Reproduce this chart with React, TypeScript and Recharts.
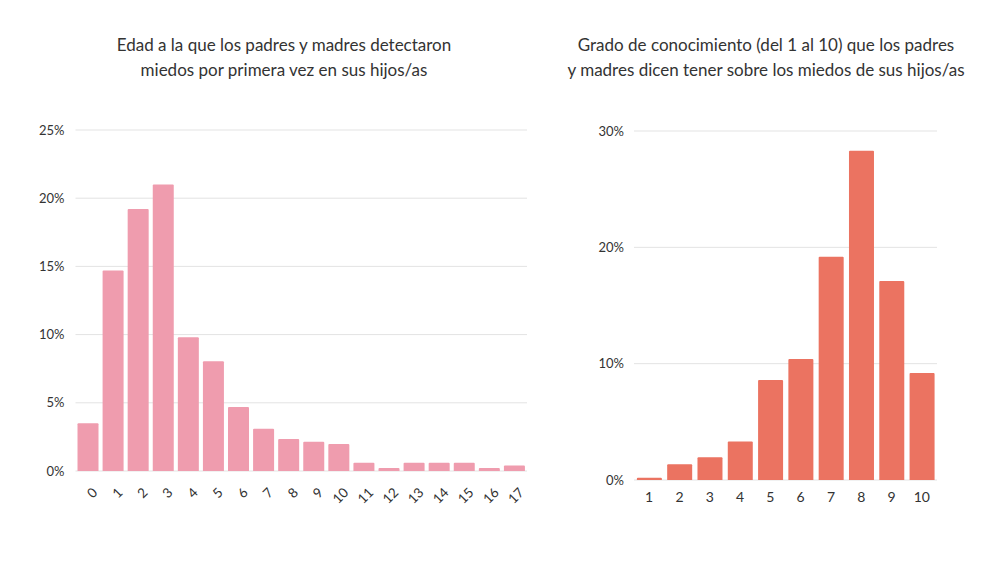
import React from 'react';
import { BarChart, Bar, XAxis, YAxis, CartesianGrid } from 'recharts';

const edades = ['0', '1', '2', '3', '4', '5', '6', '7', '8', '9', '10', '11', '12', '13', '14', '15', '16', '17'];
const edadValores = [3.5, 14.7, 19.2, 21.0, 9.8, 8.05, 4.7, 3.1, 2.35, 2.15, 1.98, 0.6, 0.22, 0.6, 0.6, 0.6, 0.22, 0.4];
const edadTicks = [0, 5, 10, 15, 20, 25];

const grados = ['1', '2', '3', '4', '5', '6', '7', '8', '9', '10'];
const gradoValores = [0.2, 1.35, 1.95, 3.3, 8.6, 10.4, 19.2, 28.3, 17.1, 9.2];
const gradoTicks = [0, 10, 20, 30];

const FONT = 'Lato, sans-serif';
const TEXT = '#333333';

const edadData = edades.map((e, i) => ({ edad: e, valor: edadValores[i] }));
const gradoData = grados.map((g, i) => ({ grado: g, valor: gradoValores[i] }));

const RotatedTick = (props: any) => {
    const { x, y, payload } = props;
    return (
        <g transform={`translate(${x + 7},${y + 11})`}>
            <text
                textAnchor="end"
                transform="rotate(-45)"
                dy="0.35em"
                fill={TEXT}
                fontSize={13.5}
                fontFamily={FONT}
            >
                {payload.value}
            </text>
        </g>
    );
};

const titleStyle: React.CSSProperties = {
    position: 'absolute',
    top: 32,
    fontFamily: FONT,
    fontSize: 17,
    lineHeight: '25px',
    color: TEXT,
    textAlign: 'center',
    whiteSpace: 'nowrap',
    transform: 'translateX(-50%)',
};

const App: React.FC = () => {
    return (
        <div style={{ position: 'absolute', left: 0, top: 0, width: 1000, height: 563, background: '#fff' }}>
            <div style={{ ...titleStyle, left: 284 }}>
                Edad a la que los padres y madres detectaron
                <br />
                miedos por primera vez en sus hijos/as
            </div>
            <div style={{ ...titleStyle, left: 766 }}>
                Grado de conocimiento (del 1 al 10) que los padres
                <br />
                y madres dicen tener sobre los miedos de sus hijos/as
            </div>

            <div style={{ position: 'absolute', left: 0, top: 0 }}>
                <BarChart
                    width={540}
                    height={563}
                    data={edadData}
                    margin={{ top: 130, right: 13, left: 0, bottom: 52 }}
                    barCategoryGap="8%"
                >
                    <CartesianGrid vertical={false} stroke="#e3e3e3" />
                    <XAxis
                        dataKey="edad"
                        height={40}
                        axisLine={false}
                        tickLine={false}
                        interval={0}
                        tick={<RotatedTick />}
                    />
                    <YAxis
                        width={75.5}
                        domain={[0, 25]}
                        ticks={edadTicks}
                        axisLine={false}
                        tickLine={false}
                        tickMargin={5}
                        tickFormatter={(v) => `${v}%`}
                        tick={{ fill: TEXT, fontSize: 13, fontFamily: FONT }}
                    />
                    <Bar dataKey="valor" fill="#EF9CAE" radius={[1, 1, 0, 0]} isAnimationActive={false} />
                </BarChart>
            </div>

            <div style={{ position: 'absolute', left: 540, top: 0 }}>
                <BarChart
                    width={460}
                    height={563}
                    data={gradoData}
                    margin={{ top: 131, right: 63, left: 0, bottom: 53 }}
                    barCategoryGap="9.5%"
                >
                    <CartesianGrid vertical={false} stroke="#e3e3e3" />
                    <XAxis
                        dataKey="grado"
                        height={30}
                        axisLine={false}
                        tickLine={false}
                        interval={0}
                        tickMargin={6}
                        tick={{ fill: TEXT, fontSize: 14, fontFamily: FONT }}
                    />
                    <YAxis
                        width={94}
                        domain={[0, 30]}
                        ticks={gradoTicks}
                        axisLine={false}
                        tickLine={false}
                        tickMargin={4}
                        tickFormatter={(v) => `${v}%`}
                        tick={{ fill: TEXT, fontSize: 13, fontFamily: FONT }}
                    />
                    <Bar dataKey="valor" fill="#EB7361" radius={[1, 1, 0, 0]} isAnimationActive={false} />
                </BarChart>
            </div>
        </div>
    );
};

export default App;
